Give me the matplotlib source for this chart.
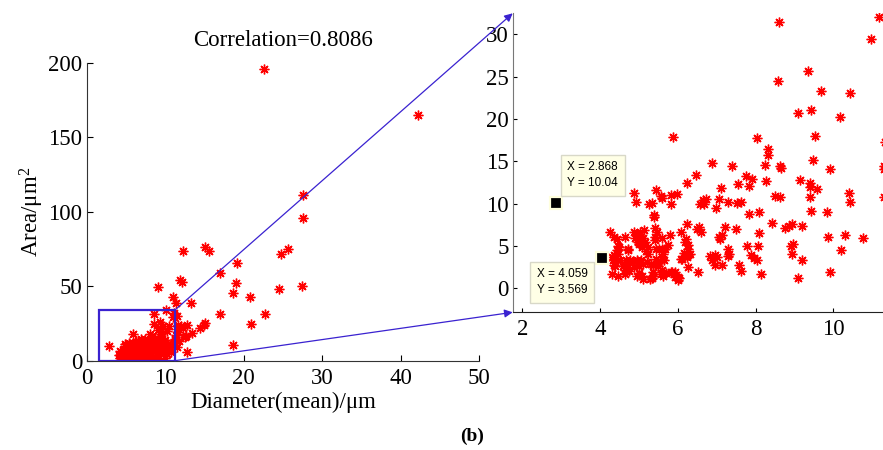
import matplotlib
matplotlib.use('Agg')
import matplotlib.pyplot as plt
from matplotlib.patches import Rectangle, ConnectionPatch

plt.rcParams['font.family'] = 'Liberation Serif'
plt.rcParams['mathtext.fontset'] = 'custom'
plt.rcParams['mathtext.rm'] = 'Liberation Serif'
plt.rcParams['mathtext.it'] = 'Liberation Serif:italic'

# dense part of the data (all of it visible in the zoomed panel)
diam_core = [11.18, 8.60, 10.96, 9.34, 8.58, 9.68, 10.43, 9.42, 9.10, 10.17, 9.53, 5.88, 8.05, 11.32,
             8.31, 8.31, 9.47, 6.89, 7.39, 8.24, 8.63, 8.65, 9.92, 11.30, 11.30,
             6.48, 7.75, 6.23, 7.91, 8.26, 9.14, 9.41, 7.54, 7.83, 9.40, 9.59, 7.12,
             5.43, 4.86, 10.41, 5.83, 5.97, 5.58, 5.56, 8.64, 8.50, 9.41, 11.30,
             6.72, 7.06, 6.66, 6.58, 6.68, 10.44, 4.92, 5.34, 5.27, 7.29, 7.51, 7.62, 5.82, 6.98,
             8.10, 7.82, 9.84, 9.44, 5.39, 5.39,
             8.43, 8.94, 8.86, 8.76, 9.20, 6.23, 7.22, 6.55, 6.59, 5.42, 5.46, 5.42, 5.40, 4.26,
             4.88, 4.95, 5.03, 5.12, 7.50, 6.08, 8.08, 6.49,
             4.37, 4.43, 4.65, 5.81, 5.59, 7.05, 7.13, 7.09, 9.87, 10.30, 10.77,
             4.90, 4.97, 5.05, 5.15, 5.10, 5.00, 5.08,
             6.21, 6.19, 6.27, 6.27,
             4.45, 4.49, 4.43, 4.47, 4.73, 5.23, 5.18, 5.43, 5.52, 5.60, 5.66, 5.74, 4.71,
             5.63, 5.58, 5.45, 6.31, 7.29, 7.32, 7.30, 7.78, 8.06, 8.90, 8.96, 8.94, 10.20, 5.24,
             4.36, 4.33, 4.30, 4.39, 4.52, 4.35,
             4.67, 4.77, 4.85, 4.95, 5.05, 5.11, 4.99, 4.88, 4.72, 5.20, 5.30, 5.37, 5.50, 5.58, 5.50, 5.65,
             6.07, 6.10, 6.23, 6.27, 6.17,
             6.83, 6.88, 6.96, 7.00, 6.96, 7.13,
             7.89, 7.95, 8.04, 9.20, 7.58, 6.25,
             4.39, 4.60, 4.74, 4.64, 4.30, 4.47, 4.65,
             4.94, 5.09, 5.11, 4.99, 5.28, 5.37, 5.37, 5.33,
             5.56, 5.63, 5.70, 5.59, 5.63, 5.82, 5.93, 5.85, 5.93, 6.00, 6.01, 6.02,
             6.51, 7.62, 8.15, 9.08, 9.92,
             2.868, 4.059]
area_core = [32.0, 31.4, 29.4, 25.7, 24.5, 23.3, 23.1, 21.0, 20.7, 20.2, 18.0, 17.9, 17.7, 17.3,
             16.5, 15.7, 15.1, 14.8, 14.5, 14.6, 14.5, 14.2, 14.1, 14.5, 14.1,
             13.4, 13.3, 12.4, 12.9, 12.7, 12.8, 12.4, 12.35, 12.1, 12.0, 11.7, 11.8,
             11.6, 11.3, 11.3, 11.0, 11.1, 10.7, 10.9, 10.8, 10.9, 10.8, 10.8,
             10.6, 10.6, 10.4, 9.95, 9.95, 10.2, 10.2, 10.1, 9.9, 10.2, 10.1, 10.2, 9.9, 9.5,
             9.0, 8.8, 9.0, 9.1, 8.7, 8.4,
             7.7, 7.6, 7.4, 7.1, 7.4, 7.6, 7.3, 7.3, 6.7, 7.1, 6.7, 6.1, 5.7, 6.7,
             6.7, 6.3, 6.7, 6.9, 7.0, 6.7, 6.5, 7.0,
             6.1, 5.8, 6.1, 6.3, 6.0, 6.1, 6.3, 5.8, 6.1, 6.3, 6.0,
             5.9, 5.5, 5.7, 5.5, 6.0, 5.2, 4.9,
             5.8, 5.5, 5.1, 4.7,
             5.0, 4.9, 4.5, 4.1, 4.6, 4.9, 4.4, 4.6, 4.7, 4.6, 4.7, 5.1, 4.5,
             4.1, 3.7, 3.5, 4.1, 4.6, 4.05, 3.8, 5.0, 5.0, 5.0, 5.2, 4.0, 4.5, 4.1,
             3.9, 3.4, 3.7, 3.3, 3.3, 2.75,
             3.4, 3.3, 3.2, 3.4, 3.3, 2.9, 2.6, 2.5, 2.8, 3.1, 2.9, 2.8, 3.0, 3.5, 2.6, 3.3,
             3.5, 3.5, 3.65, 3.9, 4.2,
             3.8, 3.4, 3.9, 3.7, 2.75, 2.75,
             3.9, 3.6, 3.3, 3.4, 2.8, 2.55,
             2.6, 2.6, 2.0, 2.2, 1.7, 1.45, 1.65,
             1.5, 1.5, 1.1, 1.8, 1.1, 1.5, 1.95, 1.2,
             1.7, 1.4, 1.8, 2.15, 1.75, 1.9, 1.9, 1.95, 1.35, 1.3, 1.0, 1.2,
             1.9, 2.0, 1.65, 1.25, 1.95,
             10.04, 3.569]

# sparse large cells, only in the full view
diam_outer = [22.6, 42.27, 27.6, 27.6, 15.04, 15.63, 12.23, 25.6, 24.77, 19.2, 17.03, 19.07,
              11.93, 12.14, 9.13, 27.4, 24.5, 18.69, 20.85, 10.96, 11.38, 13.29, 10.1, 17.03,
              22.72, 11.68, 12.75, 15.1, 14.9, 14.5, 20.98, 13.4, 12.65, 18.69, 12.83, 11.6,
              12.0, 12.3, 12.5, 11.8, 11.5, 11.6, 11.45]
area_outer = [195.6, 164.7, 111.2, 96.0, 76.3, 73.4, 73.4, 75.0, 71.4, 65.6, 58.6, 52.1,
              54.2, 52.6, 49.3, 50.1, 48.3, 45.2, 42.5, 42.5, 38.5, 38.5, 34.0, 31.3,
              31.3, 24.0, 24.0, 25.5, 24.0, 21.7, 24.6, 18.4, 16.6, 10.5, 6.0, 21.5,
              23.0, 22.0, 16.1, 13.0, 9.5, 19.5, 30.0]

tip_x = [2.868, 4.059]
tip_y = [10.04, 3.569]

zoom_x = (1.6, 11.2)
zoom_y = (0, 33.8)

red = '#FF0000'
blue = '#3A22D0'
star = (8, 2, 0)

fig = plt.figure(figsize=(8.83, 4.5), dpi=100)
ax1 = fig.add_axes([0.0982, 0.1984, 0.4443, 0.6623])
ax2 = fig.add_axes([0.5806, 0.306, 0.4194, 0.6644])

ax1.plot(diam_core + diam_outer, area_core + area_outer, linestyle='none', marker=star,
         ms=7, mew=1.0, color=red)
ax1.set_xlim(0, 50)
ax1.set_ylim(0, 200)
ax1.set_xticks([0, 10, 20, 30, 40, 50])
ax1.set_yticks([0, 50, 100, 150, 200])
ax1.tick_params(direction='in', labelsize=16.5, length=4, pad=3)
ax1.tick_params(axis='x', pad=5.5)
for s in ['top', 'right']:
    ax1.spines[s].set_visible(False)
for s in ['left', 'bottom']:
    ax1.spines[s].set_color('#333333')
ax1.set_title('Correlation=0.8086', fontsize=16.5, pad=12)
ax1.set_xlabel('Diameter(mean)/\u03bcm', fontsize=16.5, labelpad=2)
ax1.set_ylabel('Area/\u03bcm$^2$', fontsize=16.5, labelpad=2)

ax1.add_patch(Rectangle((zoom_x[0], zoom_y[0]), zoom_x[1] - zoom_x[0], zoom_y[1] - zoom_y[0],
                        fill=False, edgecolor=blue, lw=1.6, zorder=5))

ax2.plot(diam_core + diam_outer, area_core + area_outer, linestyle='none', marker=star,
         ms=7, mew=1.0, color=red)
ax2.set_xlim(1.75, 11.28)
ax2.set_ylim(-2.83, 32.47)
ax2.set_xticks([2, 4, 6, 8, 10])
ax2.set_yticks([0, 5, 10, 15, 20, 25, 30])
ax2.tick_params(direction='in', labelsize=16.5, length=3, pad=3)
ax2.tick_params(axis='x', pad=4.5)
for s in ['top', 'right']:
    ax2.spines[s].set_visible(False)
ax2.spines['left'].set_color('#777777')
ax2.spines['bottom'].set_color('#222222')

# data tips
ax2.plot(tip_x, tip_y, linestyle='none', marker='s', ms=8, mfc='black',
         mec='#FFFFDD', mew=1.6, zorder=6)
tip_pos = [(3.01, 15.6), (2.22, 2.95)]
for (tx, ty), x, y in zip(tip_pos, tip_x, tip_y):
    ax2.text(tx + 0.15, ty - 0.6, 'X = %.4g\nY = %.4g' % (x, y), family='Liberation Sans',
             fontsize=8.5, ha='left', va='top', linespacing=1.45, zorder=7,
             bbox=dict(boxstyle='square,pad=0.55', fc='#FFFFE6', ec='#D8D8C8', lw=1))

# arrows from zoom box to the zoomed panel
for ya, yb in [(zoom_y[1], 1), (zoom_y[0], 0)]:
    con = ConnectionPatch(xyA=(zoom_x[1], ya), coordsA=ax1.transData,
                          xyB=(0, yb), coordsB=ax2.transAxes,
                          arrowstyle='-|>', mutation_scale=12, color=blue, lw=0.9)
    fig.add_artist(con)

fig.text(0.535, 0.012, '(b)', fontsize=14, fontweight='bold', ha='center', va='bottom')

fig.savefig('out.png', dpi=100)
